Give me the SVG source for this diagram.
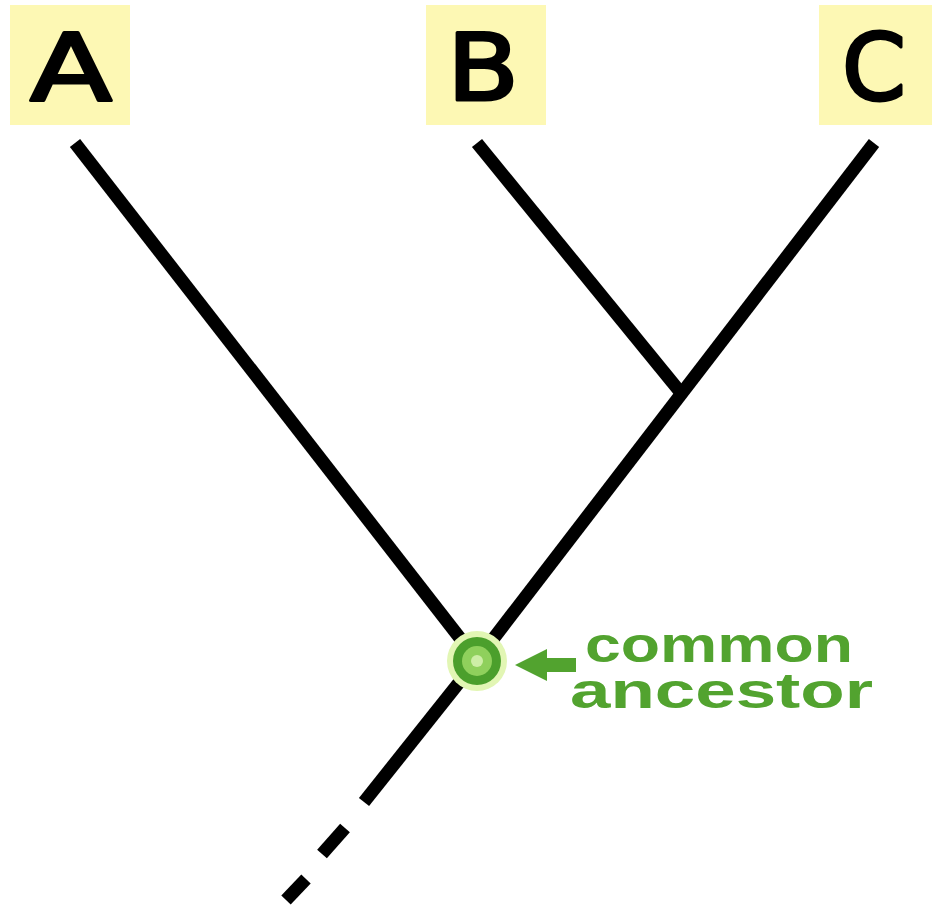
<svg xmlns="http://www.w3.org/2000/svg" width="932" height="907" viewBox="0 0 932 907">
  <style>
    .label-box { fill: #fdf8b4; }
    .label { font-family: "DejaVu Sans", "Liberation Sans", sans-serif; font-size: 92px; fill: #000; stroke: #000; stroke-width: 3; stroke-linejoin: round; text-anchor: middle; }
    .branch { stroke: #000; stroke-width: 13; stroke-linecap: butt; fill: none; }
    .note { font-family: "Liberation Sans", Arial, sans-serif; font-weight: bold; font-size: 50px; fill: #52a32f; }
  </style>
  <rect width="932" height="907" fill="#ffffff"/>

  <!-- taxa labels -->
  <g id="taxon-A">
    <rect class="label-box" x="10" y="5" width="120" height="120"/>
    <text class="label" x="71" y="100" textLength="82" lengthAdjust="spacingAndGlyphs">A</text>
  </g>
  <g id="taxon-B">
    <rect class="label-box" x="426" y="5" width="120" height="120"/>
    <text class="label" x="483" y="100" textLength="72" lengthAdjust="spacingAndGlyphs">B</text>
  </g>
  <g id="taxon-C">
    <rect class="label-box" x="819" y="5" width="113" height="120"/>
    <text class="label" x="874" y="100" textLength="64" lengthAdjust="spacingAndGlyphs">C</text>
  </g>

  <!-- branches -->
  <g id="connectors">
    <line class="branch" x1="75" y1="143" x2="477" y2="660"/>
    <line class="branch" x1="477" y1="143" x2="681" y2="393"/>
    <line class="branch" x1="874" y1="143" x2="477" y2="660"/>
    <line class="branch" x1="477" y1="660" x2="364" y2="802"/>
    <line class="branch" x1="345" y1="828" x2="322" y2="854"/>
    <line class="branch" x1="306" y1="879" x2="286" y2="900"/>
  </g>

  <!-- common ancestor node -->
  <g id="common-ancestor">
    <circle cx="477" cy="661" r="30" fill="#e2f6b4"/>
    <circle cx="477" cy="661" r="24" fill="#4b9f2c"/>
    <circle cx="477" cy="661" r="15" fill="#8fd05c"/>
    <circle cx="477" cy="661" r="6" fill="#cdeea6"/>
  </g>

  <!-- annotation -->
  <g id="annotation">
    <polygon points="515,665 547,649 547,658 576,658 576,672 547,672 547,681" fill="#52a32f"/>
    <text class="note" x="585" y="662" textLength="268" lengthAdjust="spacingAndGlyphs">common</text>
    <text class="note" x="570" y="708" textLength="303" lengthAdjust="spacingAndGlyphs">ancestor</text>
  </g>
</svg>
